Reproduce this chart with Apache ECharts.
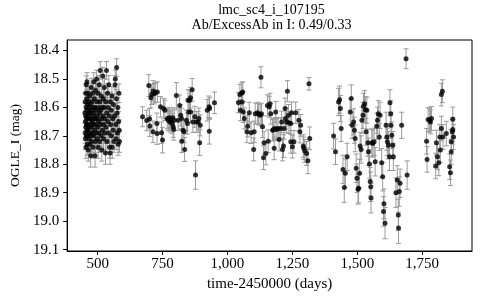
<!DOCTYPE html>
<html><head><meta charset="utf-8">
<script src="https://cdn.jsdelivr.net/npm/echarts@6/dist/echarts.min.js"></script>
<style>html,body{margin:0;padding:0;background:#fff}#c{width:480px;height:300px}</style>
</head><body><div id="c"></div>
<script>
// [day, mag, error]
const season1 = [
[451,18.62,0.035],[452,18.58,0.032],[452,18.69,0.036],[453,18.65,0.034],[453,18.71,0.038],[454,18.55,0.033],[454,18.63,0.035],[455,18.67,0.036],[455,18.74,0.039],[456,18.60,0.034],[456,18.52,0.031],[457,18.66,0.035],[457,18.70,0.037],[458,18.57,0.033],[458,18.64,0.035],[459,18.51,0.032],[459,18.68,0.036],[460,18.61,0.034],[460,18.73,0.038],[461,18.59,0.033],[461,18.66,0.036],[462,18.63,0.035],[462,18.70,0.037],[463,18.55,0.032],[463,18.68,0.036],[464,18.75,0.039],[465,18.62,0.035],[465,18.58,0.033],[466,18.67,0.036],[467,18.71,0.038],[467,18.60,0.034],[468,18.64,0.035],[469,18.56,0.033],[469,18.69,0.037],[470,18.73,0.038],[471,18.62,0.035],[472,18.66,0.036],[472,18.59,0.034],[473,18.77,0.040],[474,18.64,0.035],[474,18.70,0.037],[475,18.53,0.032],[476,18.61,0.034],[477,18.67,0.036],[477,18.72,0.038],[478,18.58,0.033],[479,18.65,0.035],[480,18.69,0.037],[481,18.55,0.033],[481,18.63,0.035],[482,18.74,0.039],[483,18.60,0.034],[484,18.66,0.036],[485,18.51,0.032],[485,18.70,0.037],[486,18.62,0.035],[487,18.57,0.033],[488,18.68,0.036],[489,18.64,0.035],[490,18.77,0.040],[490,18.60,0.034],[491,18.72,0.038],[492,18.54,0.033],[493,18.66,0.036],[494,18.61,0.034],[495,18.69,0.037],[496,18.50,0.031],[496,18.64,0.035],[497,18.58,0.033],[498,18.71,0.038],[499,18.63,0.035],[500,18.67,0.036],[501,18.55,0.033],[502,18.74,0.039],[503,18.60,0.034],[504,18.65,0.035],[505,18.69,0.037],[506,18.52,0.032],[507,18.62,0.035],[508,18.72,0.038],[509,18.58,0.033],[510,18.47,0.031],[511,18.66,0.036],[512,18.61,0.034],[513,18.70,0.037],[514,18.56,0.033],[515,18.64,0.035],[516,18.75,0.039],[517,18.60,0.034],[518,18.68,0.036],[520,18.49,0.031],[521,18.63,0.035],[522,18.57,0.033],[523,18.71,0.038],[524,18.66,0.036],[525,18.60,0.034],[526,18.53,0.032],[527,18.69,0.037],[528,18.64,0.035],[530,18.76,0.040],[531,18.58,0.033],[532,18.67,0.036],[534,18.47,0.031],[535,18.62,0.035],[536,18.72,0.038],[538,18.55,0.033],[539,18.65,0.035],[540,18.60,0.034],[542,18.69,0.037],[543,18.52,0.032],[545,18.63,0.035],[546,18.74,0.039],[548,18.76,0.040],[549,18.58,0.033],[550,18.66,0.036],[552,18.61,0.034],[553,18.70,0.037],[555,18.56,0.033],[556,18.74,0.039],[558,18.64,0.035],[560,18.68,0.036],[561,18.59,0.034],[563,18.72,0.038],[565,18.63,0.035],[567,18.52,0.032],[568,18.50,0.031],[570,18.66,0.036],[571,18.71,0.038],[572,18.57,0.033],[573,18.46,0.031],[575,18.62,0.035],[576,18.69,0.037],[578,18.60,0.034],[579,18.73,0.038],[581,18.65,0.035],[582,18.55,0.033],[583,18.68,0.036],[584,18.72,0.038]
];
const season2 = [
[673,18.633,0.035],[689,18.646,0.036],[697,18.523,0.038],[700,18.640,0.036],[701,18.665,0.037],[705,18.566,0.036],[708,18.555,0.035],[713,18.686,0.038],[714,18.542,0.036],[718,18.552,0.036],[722,18.548,0.035],[728,18.657,0.037],[729,18.692,0.038],[730,18.546,0.036],[742,18.598,0.036],[746,18.689,0.038],[750,18.715,0.045],[754,18.604,0.036],[759,18.610,0.036],[768,18.639,0.036],[772,18.645,0.036],[776,18.636,0.036],[778,18.651,0.036],[782,18.643,0.036],[787,18.657,0.036],[789,18.636,0.035],[791,18.668,0.037],[793,18.678,0.037],[795,18.645,0.036],[803,18.558,0.045],[810,18.645,0.036],[816,18.593,0.037],[820,18.628,0.037],[823,18.639,0.036],[824,18.719,0.040],[829,18.680,0.038],[833,18.686,0.038],[835,18.748,0.042],[842,18.645,0.036],[846,18.657,0.037],[848,18.575,0.037],[851,18.616,0.037],[854,18.575,0.038],[858,18.566,0.037],[858,18.616,0.036],[864,18.538,0.040],[867,18.651,0.037],[874,18.633,0.037],[877,18.838,0.050],[880,18.651,0.037],[887,18.651,0.037],[890,18.639,0.037],[893,18.724,0.045],[895,18.663,0.037],[922,18.610,0.038],[929,18.598,0.038],[931,18.604,0.038],[930,18.684,0.045],[950,18.584,0.038]
];
const season3 = [
[1042,18.583,0.036],[1048,18.555,0.036],[1050,18.610,0.037],[1055,18.549,0.036],[1056,18.581,0.036],[1059,18.546,0.036],[1061,18.616,0.037],[1065,18.639,0.037],[1075,18.686,0.038],[1078,18.666,0.038],[1084,18.619,0.037],[1091,18.689,0.038],[1101,18.748,0.040],[1103,18.686,0.038],[1107,18.622,0.037],[1116,18.619,0.037],[1120,18.624,0.037],[1126,18.628,0.037],[1129,18.494,0.037],[1131,18.622,0.037],[1135,18.668,0.038],[1139,18.777,0.042],[1141,18.724,0.040],[1148,18.762,0.040],[1154,18.593,0.037],[1157,18.719,0.040],[1161,18.598,0.037],[1164,18.587,0.037],[1167,18.622,0.037],[1174,18.680,0.038],[1177,18.678,0.038],[1180,18.744,0.040],[1183,18.674,0.038],[1186,18.616,0.037],[1190,18.678,0.038],[1195,18.674,0.038],[1199,18.713,0.040],[1205,18.674,0.038],[1209,18.651,0.038],[1212,18.748,0.040],[1216,18.736,0.040],[1218,18.674,0.038],[1222,18.604,0.037],[1224,18.639,0.038],[1228,18.651,0.038],[1231,18.543,0.037],[1235,18.628,0.038],[1237,18.654,0.038],[1244,18.657,0.038],[1244,18.721,0.040],[1247,18.619,0.038],[1250,18.738,0.040],[1256,18.721,0.040],[1263,18.619,0.038],[1275,18.645,0.038],[1279,18.686,0.039],[1282,18.663,0.038],[1292,18.736,0.040],[1294,18.744,0.040],[1298,18.753,0.040],[1305,18.762,0.042],[1310,18.788,0.045],[1314,18.517,0.022],[1317,18.709,0.040]
];
const season4 = [
[1409,18.701,0.045],[1416,18.756,0.045],[1428,18.581,0.048],[1432,18.573,0.048],[1435,18.604,0.046],[1438,18.674,0.046],[1445,18.818,0.050],[1450,18.882,0.052],[1454,18.832,0.050],[1461,18.774,0.048],[1473,18.616,0.046],[1477,18.569,0.048],[1480,18.663,0.046],[1486,18.651,0.046],[1489,18.680,0.046],[1492,18.709,0.047],[1496,18.814,0.050],[1499,18.849,0.050],[1503,18.888,0.052],[1505,18.884,0.052],[1509,18.832,0.050],[1511,18.736,0.048],[1515,18.748,0.048],[1518,18.645,0.046],[1522,18.628,0.046],[1524,18.596,0.046],[1528,18.587,0.046],[1531,18.608,0.046],[1534,18.686,0.047],[1537,18.610,0.046],[1541,18.724,0.048],[1543,18.756,0.048],[1547,18.799,0.050],[1550,18.861,0.050],[1552,18.879,0.052],[1553,18.919,0.052],[1556,18.724,0.048],[1560,18.727,0.048],[1565,18.721,0.048],[1569,18.791,0.050],[1575,18.666,0.046],[1578,18.645,0.046],[1581,18.622,0.046],[1585,18.704,0.047],[1588,18.628,0.046],[1594,18.795,0.050],[1598,18.844,0.050],[1601,18.966,0.052],[1603,18.939,0.052],[1607,19.007,0.055],[1611,18.663,0.046],[1614,18.704,0.047],[1616,18.721,0.048],[1620,18.733,0.048],[1624,18.774,0.048],[1626,18.584,0.046],[1629,18.622,0.046],[1630,18.663,0.046],[1633,18.698,0.047],[1637,18.733,0.048],[1639,18.774,0.048],[1649,18.900,0.052],[1654,18.855,0.050],[1658,18.978,0.055],[1659,19.024,0.055],[1662,18.896,0.052],[1665,18.867,0.050],[1671,18.663,0.046],[1688,18.429,0.035],[1692,18.838,0.050]
];
const season5 = [
[1767,18.719,0.045],[1769,18.783,0.045],[1773,18.643,0.042],[1779,18.645,0.042],[1782,18.651,0.042],[1786,18.639,0.042],[1802,18.806,0.045],[1805,18.724,0.044],[1809,18.774,0.045],[1814,18.795,0.045],[1818,18.704,0.044],[1820,18.750,0.044],[1824,18.674,0.043],[1824,18.555,0.040],[1828,18.543,0.040],[1830,18.704,0.044],[1843,18.692,0.043],[1856,18.809,0.045],[1859,18.830,0.045],[1862,18.756,0.044],[1862,18.721,0.044],[1866,18.686,0.043],[1868,18.678,0.043],[1868,18.642,0.043],[1871,18.704,0.044]
];
const xTicks = [500, 750, 1000, 1250, 1500, 1750];
const yTicks = [18.4, 18.5, 18.6, 18.7, 18.8, 18.9, 19.0, 19.1];
const titleText = 'lmc_sc4_i_107195\nAb/ExcessAb in I: 0.49/0.33';
const xName = 'time-2450000 (days)';
const yName = 'OGLE_I (mag)';

const allPoints = season1.concat(season2, season3, season4, season5);
const serif = 'Liberation Serif';
const chart = echarts.init(document.getElementById('c'), null, {renderer: 'canvas'});
const labelStyle = {fontFamily: serif, fontSize: 15, color: '#000'};
chart.setOption({
  animation: false,
  backgroundColor: '#fff',
  title: {
    text: titleText, left: 271.5, top: 3, padding: 0, textAlign: 'center',
    textStyle: {fontFamily: serif, fontSize: 14, fontWeight: 'normal', color: '#000', lineHeight: 15}
  },
  grid: {left: 65, top: 40, width: 407, height: 211, show: true, borderColor: '#000', borderWidth: 1, backgroundColor: 'transparent'},
  xAxis: {
    type: 'value', min: 382.5, max: 1942,
    axisLine: {onZero: false, lineStyle: {color: '#000', width: 1}},
    axisTick: {customValues: xTicks, length: 4, lineStyle: {color: '#000'}},
    axisLabel: Object.assign({customValues: xTicks, margin: 6, formatter: v => Number(v).toLocaleString('en-US')}, labelStyle),
    splitLine: {show: false},
    name: xName, nameLocation: 'middle', nameGap: 25,
    nameTextStyle: {fontFamily: serif, fontSize: 15, color: '#000'}
  },
  yAxis: {
    type: 'value', inverse: true, min: 18.363, max: 19.105,
    axisLine: {show: true, onZero: false, lineStyle: {color: '#000', width: 1}},
    axisTick: {show: true, customValues: yTicks, length: 4, lineStyle: {color: '#000'}},
    axisLabel: Object.assign({customValues: yTicks, margin: 8, formatter: v => Number(v).toFixed(1)}, labelStyle),
    splitLine: {show: false},
    name: yName, nameLocation: 'middle', nameGap: 40,
    nameTextStyle: {fontFamily: serif, fontSize: 13.5, color: '#000'}
  },
  series: [
    {
      type: 'custom', data: allPoints, encode: {x: 0, y: 1}, z: 1,
      renderItem: (params, api) => {
        const x = api.value(0), y = api.value(1), e = api.value(2);
        const p1 = api.coord([x, y - e]);
        const p2 = api.coord([x, y + e]);
        const st = {stroke: '#9a9a9a', lineWidth: 1};
        return {type: 'group', children: [
          {type: 'line', shape: {x1: p1[0], y1: p1[1], x2: p2[0], y2: p2[1]}, style: st},
          {type: 'line', shape: {x1: p1[0] - 2.5, y1: p1[1], x2: p1[0] + 2.5, y2: p1[1]}, style: st},
          {type: 'line', shape: {x1: p2[0] - 2.5, y1: p2[1], x2: p2[0] + 2.5, y2: p2[1]}, style: st}
        ]};
      }
    },
    {
      type: 'scatter', data: allPoints.map(d => [d[0], d[1]]), symbol: 'circle', symbolSize: 5, z: 2,
      itemStyle: {color: '#000'}
    }
  ]
});
</script>
</body></html>
